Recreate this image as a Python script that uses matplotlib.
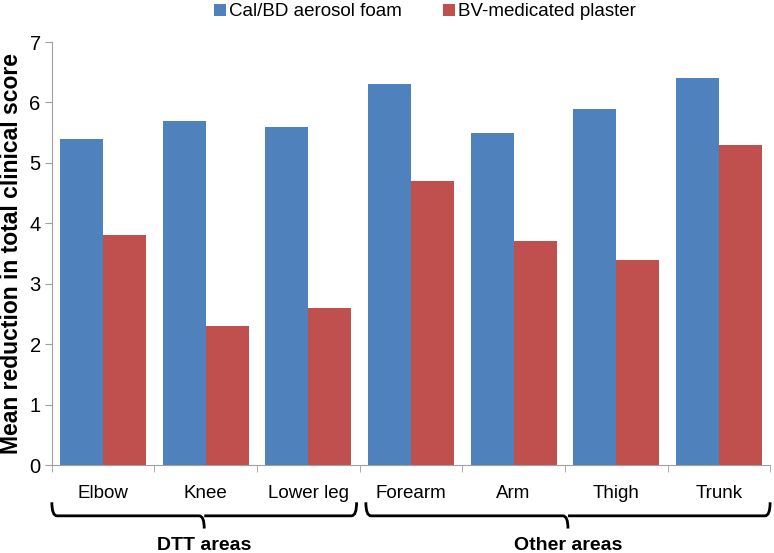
import matplotlib.pyplot as plt
import numpy as np
from matplotlib.path import Path
from matplotlib.patches import PathPatch
import matplotlib.transforms as mtransforms

plt.rcParams['font.family'] = ['Liberation Sans', 'DejaVu Sans']

areas = ["Elbow", "Knee", "Lower leg", "Forearm", "Arm", "Thigh", "Trunk"]
foam = [5.4, 5.7, 5.6, 6.3, 5.5, 5.9, 6.4]
plaster = [3.8, 2.3, 2.6, 4.7, 3.7, 3.4, 5.3]
groups = ["DTT areas", "Other areas"]
group_spans = [(0, 3), (3, 7)]  # category index ranges

fig = plt.figure(figsize=(7.74, 5.53), dpi=100)
ax = fig.add_axes([0.067, 0.159, 0.928, 0.765])

x = np.arange(len(areas))
w = 0.42
ax.bar(x - w / 2, foam, w, color="#4F81BD", label="Cal/BD aerosol foam")
ax.bar(x + w / 2, plaster, w, color="#C0504D", label="BV-medicated plaster")

ax.set_xlim(-0.5, len(areas) - 0.5)
ax.set_ylim(0, 7)
ax.set_yticks(range(8))
ax.set_xticks(x)
ax.set_xticklabels(areas)
ax.set_xticks(np.arange(-0.5, len(areas)), minor=True)
ax.tick_params(axis="x", which="major", length=0, pad=14, labelsize=13.5)
ax.tick_params(axis="x", which="minor", length=5, color="#A0A0A0")
ax.tick_params(axis="y", length=5, color="#A0A0A0", labelsize=14.5, pad=3)
for s in ["top", "right"]:
    ax.spines[s].set_visible(False)
ax.spines["left"].set_color("#A0A0A0")
ax.spines["bottom"].set_color("#A0A0A0")

ax.set_ylabel("Mean reduction in total clinical score", fontsize=16.5, fontweight="bold", labelpad=5)

ax.legend(loc="center", bbox_to_anchor=(0.52, 1.071), ncol=2, frameon=False,
          fontsize=13.5, handlelength=0.6, handleheight=0.6, handletextpad=0.2,
          columnspacing=2.2, borderaxespad=0)

# braces under the category groups
trans = mtransforms.blended_transform_factory(ax.transData, ax.transAxes)
y_top, y_mid, y_pt = -0.088, -0.12, -0.15
r = 0.05
for (a, b), name in zip(group_spans, groups):
    x0, x1 = a - 0.5, b - 0.5
    if a > 0:
        x0 += 0.06
    if b < len(areas):
        x1 -= 0.03
    xc = (x0 + x1) / 2
    verts = [(x0, y_top), (x0, y_mid), (x0 + r, y_mid),
             (xc - r, y_mid), (xc, y_mid), (xc, y_pt),
             (xc, y_mid), (xc + r, y_mid),
             (x1 - r, y_mid), (x1, y_mid), (x1, y_top)]
    codes = [Path.MOVETO, Path.CURVE3, Path.CURVE3,
             Path.LINETO, Path.CURVE3, Path.CURVE3,
             Path.MOVETO, Path.LINETO,
             Path.LINETO, Path.CURVE3, Path.CURVE3]
    ax.add_patch(PathPatch(Path(verts, codes), fill=False, lw=2, color="black",
                           transform=trans, clip_on=False))
    ax.text(xc, -0.19, name, transform=trans, ha="center", va="center",
            fontsize=14, fontweight="bold")

fig.savefig("out.png", dpi=100)
